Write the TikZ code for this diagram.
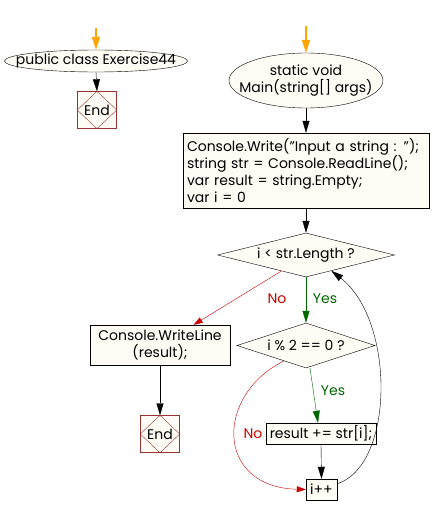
\documentclass[tikz,border=0pt]{standalone}
\usepackage{fontspec}
\setmainfont{Poppins}
\usetikzlibrary{shapes.geometric,arrows.meta}
\definecolor{nodefill}{RGB}{255,252,245}
\definecolor{nored}{RGB}{204,0,0}
\definecolor{yesgreen}{RGB}{0,102,0}
\definecolor{endred}{RGB}{153,51,51}
\definecolor{startorange}{RGB}{255,165,0}
\begin{document}
\begin{tikzpicture}[x=1pt, y=-1pt,
    font=\fontsize{14}{17.3}\selectfont,
    startshape/.style={ellipse, draw, fill=nodefill, inner sep=0pt},
    process/.style={rectangle, draw, fill=nodefill, inner sep=0pt, align=center},
    decision/.style={diamond, draw, fill=nodefill, inner sep=0pt},
    endbox/.style={rectangle, draw=endred, fill=nodefill, minimum width=39pt, minimum height=37pt, inner sep=0pt},
    enddiag/.style={endred, thin},
    flow/.style={-{Triangle[width=7pt,length=12pt]}, thin},
    entry/.style={-{Triangle[width=8pt,length=13pt]}, startorange, line width=1.6pt},
    yesflow/.style={-{Triangle[width=7pt,length=12pt]}, yesgreen, thin},
    noflow/.style={-{Triangle[width=6pt,length=9pt]}, nored, thin},
    yeslabel/.style={text=yesgreen, inner sep=1pt},
    nolabel/.style={text=nored, inner sep=1pt}
]
    \useasboundingbox (0,0) rectangle (432,516);

    % Class entry
    \coordinate (cin) at (96,28);
    \node[startshape, minimum width=183pt, minimum height=22pt] (cls) at (96,61) {};
    \node (clstext) at (cls.center) {public class Exercise44};
    \node[endbox] (end1) at (97,110) {End};
    \draw[enddiag] (end1.north) -- (end1.east) -- (end1.south) -- (end1.west) -- cycle;
    \draw[entry] (cin) -- (cls.north);
    \draw[flow] (cls.south) -- (end1.north);

    % Main entry
    \coordinate (min) at (306,26);
    \node[startshape, minimum width=154pt, minimum height=55pt] (main) at (306,80.5) {};
    \node[align=center] (maintext) at (main.center) {static void\\Main(string[] args)};
    \draw[entry] (min) -- (main.north);

    % Input block
    \node[process, minimum width=246pt, minimum height=75pt, text width=238pt, align=left] (init) at (306,170.5)
        {Console.Write("Input a string : ");\\string str = Console.ReadLine();\\var result = string.Empty;\\var i = 0};
    \draw[flow] (main.south) -- (init.north);

    % Loop test
    \node[decision, minimum width=177pt, minimum height=44pt] (loop) at (306,255) {};
    \node (looptext) at (loop.center) {i < str.Length ?};
    \draw[flow] (init.south) -- (loop.north);

    % Even test
    \node[decision, minimum width=138pt, minimum height=45pt] (even) at (306,345.5) {};
    \node (eventext) at (even.center) {i \% 2 == 0 ?};
    \draw[yesflow] (loop.south) -- (even.north);
    \node[yeslabel] (yes1) at (325,299) {Yes};

    % Output
    \node[process, minimum width=140pt, minimum height=40pt] (out) at (160,345) {Console.WriteLine\\(result);};
    \node[endbox] (end2) at (160,434) {End};
    \draw[enddiag] (end2.north) -- (end2.east) -- (end2.south) -- (end2.west) -- cycle;
    \draw[noflow] (loop.213) -- (out.31);
    \node[nolabel] (no1) at (277,299) {No};
    \draw[flow] (out.south) -- (end2.north);

    % Append and increment
    \node[process, minimum width=110pt, minimum height=21pt] (append) at (321,433.5) {result += str[i];};
    \node[process, minimum width=31pt, minimum height=21pt] (inc) at (321.5,489.5) {i++};
    \draw[yesflow] ([xshift=4pt]even.south) -- ([xshift=-3pt]append.north);
    \node[yeslabel] (yes2) at (333,391) {Yes};
    \draw[flow] (append.south) -- (inc.north);
    \draw[noflow] (even.215) .. controls (215,395) and (215,487) .. (inc.west);
    \node[nolabel] (no2) at (253,434) {No};

    % Back to loop
    \draw[flow] (inc.20) .. controls (395,465) and (395,320) .. (loop.328);
\end{tikzpicture}
\end{document}
